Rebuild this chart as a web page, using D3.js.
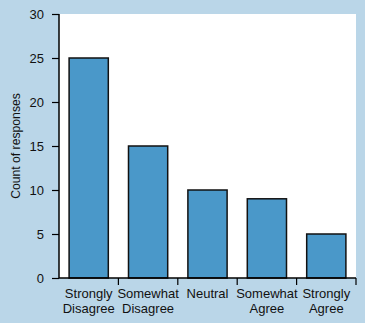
<!DOCTYPE html>
<html><head><meta charset="utf-8">
<script src="https://cdn.jsdelivr.net/npm/d3@7"></script>
<style>body{margin:0;background:#bad6e8;}svg{display:block;}</style>
</head><body>
<script>
const categories = [["Strongly","Disagree"],["Somewhat","Disagree"],["Neutral"],["Somewhat","Agree"],["Strongly","Agree"]];
const counts = [25, 15, 10, 9, 5];
const yTicks = [0, 5, 10, 15, 20, 25, 30];
const yTitle = "Count of responses";

const W = 365, H = 323;
const m = {l: 59, t: 14, r: 9, b: 45};
const svg = d3.select("body").append("svg").attr("width", W).attr("height", H);
svg.append("rect").attr("width", W).attr("height", H).attr("fill", "#bad6e8");
const iw = W - m.l - m.r, ih = H - m.t - m.b;
const g = svg.append("g").attr("transform", `translate(${m.l},${m.t})`);
g.append("rect").attr("width", iw).attr("height", ih).attr("fill", "#fff");

const idx = d3.range(categories.length);
const x = d3.scaleBand().domain(idx).range([0, iw]).paddingInner(0.34).paddingOuter(0.17);
const xb = d3.scaleBand().domain(idx).range([0, iw]);
const y = d3.scaleLinear().domain([0, 30]).range([ih, 0]);

g.selectAll("rect.bar").data(counts).join("rect").attr("class","bar")
  .attr("x", (d,i) => x(i)).attr("width", x.bandwidth())
  .attr("y", d => y(d)).attr("height", d => ih - y(d))
  .attr("fill", "#4a98c9").attr("stroke", "#111").attr("stroke-width", 1.5);

const font = "Liberation Sans, Arial, sans-serif";
// y axis
const ya = g.append("g").call(d3.axisLeft(y).tickValues(yTicks).tickSize(7).tickPadding(8));
ya.select(".domain").attr("stroke", "#000").attr("stroke-width", 1.5).attr("d", `M0,${ih}V0`);
ya.selectAll(".tick line").attr("stroke", "#000").attr("stroke-width", 1.2);
ya.selectAll(".tick text").attr("font-family", font).attr("font-size", 13).attr("fill", "#111");

// x axis baseline and ticks at band boundaries
const xa = g.append("g").attr("transform", `translate(0,${ih})`);
xa.append("line").attr("x1", 0).attr("x2", iw).attr("stroke", "#000").attr("stroke-width", 1.5);
xa.selectAll("line.tk").data(idx).join("line").attr("class","tk")
  .attr("x1", i => xb(i) + xb.bandwidth()).attr("x2", i => xb(i) + xb.bandwidth())
  .attr("y1", 0).attr("y2", 7).attr("stroke", "#000").attr("stroke-width", 1.2);
const lbl = xa.selectAll("text.lb").data(categories).join("text").attr("class","lb")
  .attr("x", (d,i) => xb(i) + xb.bandwidth()/2).attr("y", 20)
  .attr("text-anchor", "middle").attr("font-family", font).attr("font-size", 13).attr("fill", "#111");
lbl.selectAll("tspan").data(d => d).join("tspan")
  .attr("x", function(){ return this.parentNode.getAttribute("x"); })
  .attr("dy", (d,j) => j === 0 ? 0 : 15).text(d => d);

svg.append("text").attr("transform", `translate(20,${m.t + ih/2}) rotate(-90)`)
  .attr("text-anchor", "middle").attr("font-family", font).attr("font-size", 12.2).attr("fill", "#111")
  .text(yTitle);
</script>
</body></html>
